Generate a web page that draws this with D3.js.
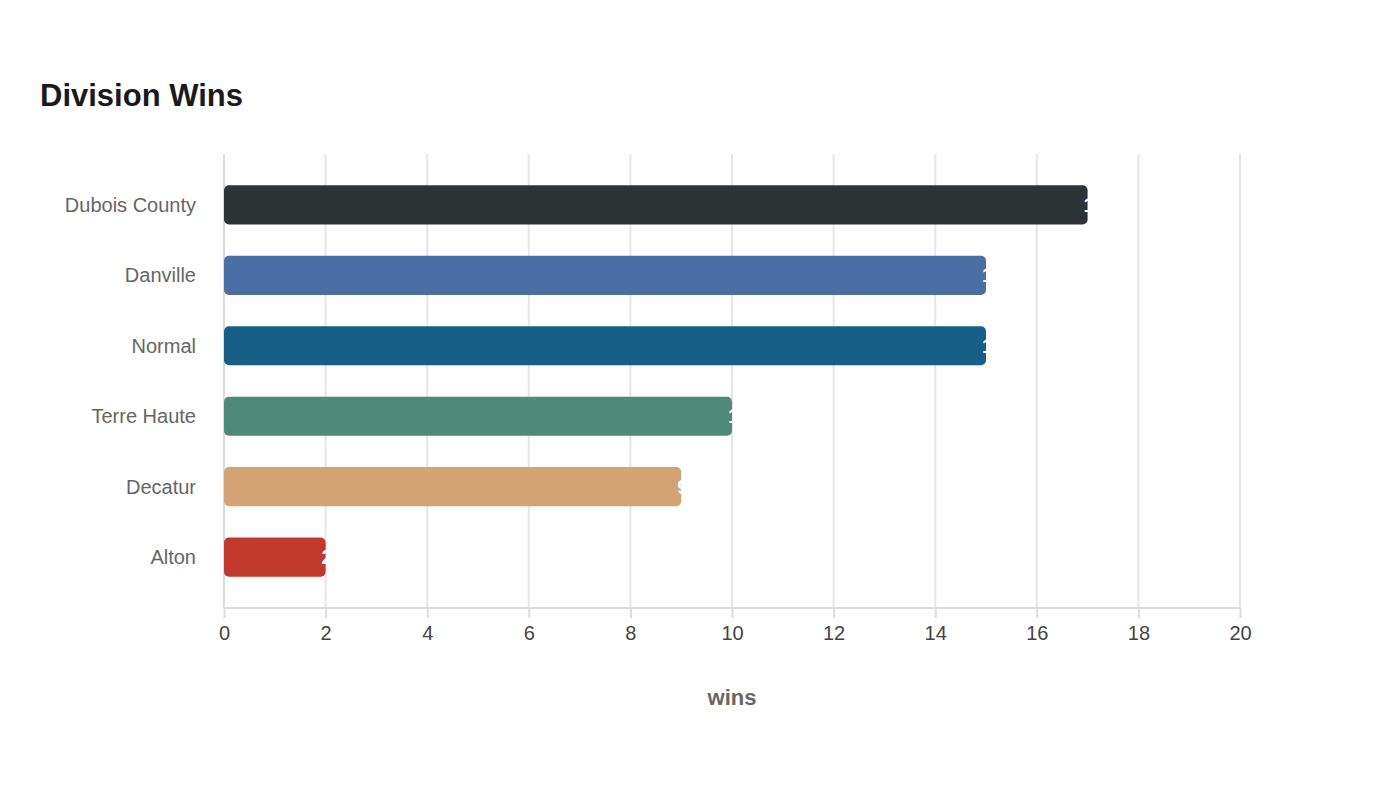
<!DOCTYPE html>
<html>
<head>
<meta charset="utf-8">
<script src="https://cdn.jsdelivr.net/npm/d3@7"></script>
<style>
  body { margin: 0; background: #fff; font-family: "Liberation Sans", Arial, sans-serif; }
</style>
</head>
<body>
<div id="chart"></div>
<script>
// Data
const teams = ["Dubois County", "Danville", "Normal", "Terre Haute", "Decatur", "Alton"];
const wins = [17, 15, 15, 10, 9, 2];
const barColors = ["#2d3436", "#4a6fa5", "#166088", "#4f8a79", "#d4a373", "#c0392b"];
const xTicks = [0, 2, 4, 6, 8, 10, 12, 14, 16, 18, 20];

const width = 1400, height = 800;
const margin = { top: 154, right: 160, bottom: 192, left: 224 };
const innerW = width - margin.left - margin.right;
const innerH = height - margin.top - margin.bottom;

const svg = d3.select("#chart").append("svg")
    .attr("width", width)
    .attr("height", height);

svg.append("text")
    .attr("x", 40).attr("y", 106)
    .attr("font-size", 31).attr("font-weight", "bold")
    .attr("fill", "#1a1a1a")
    .text("Division Wins");

const g = svg.append("g").attr("transform", `translate(${margin.left},${margin.top})`);

const x = d3.scaleLinear().domain([0, 20]).range([0, innerW]);
const y = d3.scaleBand().domain(teams).range([0, innerH]).padding(0.445);

// Grid lines
g.selectAll(".grid").data(xTicks).enter().append("line")
    .attr("x1", d => x(d)).attr("x2", d => x(d))
    .attr("y1", 0).attr("y2", innerH)
    .attr("stroke", "#e6e6e6").attr("stroke-width", 2);

// Axes lines
g.append("line").attr("x1", 0).attr("x2", innerW).attr("y1", innerH).attr("y2", innerH)
    .attr("stroke", "#dcdcdc").attr("stroke-width", 2);
g.append("line").attr("x1", 0).attr("x2", 0).attr("y1", 0).attr("y2", innerH)
    .attr("stroke", "#dcdcdc").attr("stroke-width", 2);

// X axis
const xAxis = g.append("g")
    .attr("transform", `translate(0,${innerH})`)
    .call(d3.axisBottom(x).tickValues(xTicks).tickSize(10).tickPadding(8));
xAxis.select(".domain").remove();
xAxis.selectAll("line").attr("stroke", "#dcdcdc").attr("stroke-width", 2);
xAxis.selectAll("text").attr("font-size", 20).attr("fill", "#444")
    .attr("font-family", "Liberation Sans, Arial, sans-serif");

// Y labels
g.selectAll(".ylab").data(teams).enter().append("text")
    .attr("x", -28).attr("y", d => y(d) + y.bandwidth() / 2)
    .attr("dy", "0.35em").attr("text-anchor", "end")
    .attr("font-size", 20).attr("fill", "#666")
    .text(d => d);

// Bars
g.selectAll(".bar").data(teams).enter().append("rect")
    .attr("x", 0).attr("y", d => y(d))
    .attr("width", (d, i) => x(wins[i]))
    .attr("height", y.bandwidth())
    .attr("rx", 5)
    .attr("fill", (d, i) => barColors[i]);

// Value labels (white, start at bar end)
g.selectAll(".val").data(teams).enter().append("text")
    .attr("x", (d, i) => x(wins[i]) - 4)
    .attr("y", d => y(d) + y.bandwidth() / 2)
    .attr("dy", "0.35em")
    .attr("font-size", 20).attr("font-weight", "bold").attr("fill", "#fff")
    .text((d, i) => wins[i]);

// X title
svg.append("text")
    .attr("x", margin.left + innerW / 2).attr("y", 705)
    .attr("text-anchor", "middle")
    .attr("font-size", 22).attr("font-weight", "bold").attr("fill", "#666")
    .text("wins");
</script>
</body>
</html>
